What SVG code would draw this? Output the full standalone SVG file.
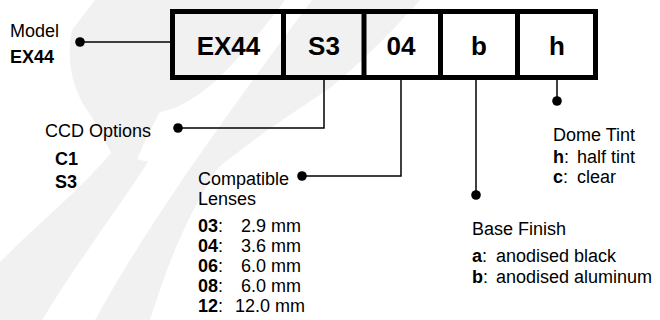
<svg xmlns="http://www.w3.org/2000/svg" width="660" height="320" viewBox="0 0 660 320">
<style>
text{font-family:"Liberation Sans",Arial,Helvetica,sans-serif;fill:#000;}
.lbl{font-size:18px;}
.b{font-weight:bold;}
.cell{font-size:26px;font-weight:bold;text-anchor:middle;}
.wm{fill:#f1f1f1;stroke:none;}
.ln{fill:none;stroke:#000;stroke-width:1.5;}
.dot{fill:#000;}
.box{fill:none;stroke:#000;stroke-width:5;}
</style>
<rect width="660" height="320" fill="#fff"/>
<g id="watermark">
<path class="wm" d="M 95 0 L 285 0 C 240 60 200 105 160 112 C 142 145 133 168 127 188 C 115 160 100 128 87 110 C 72 88 66 60 72 30 Z"/>
<path class="wm" d="M 312 0 L 420 0 C 385 40 350 72 330 88 C 285 118 245 145 218 168 C 192 208 172 250 150 320 L 95 320 C 150 220 230 110 312 0 Z"/>
<path class="wm" d="M 0 262 C 40 222 80 190 112 152 L 148 162 C 110 220 72 270 42 320 L 0 320 Z"/>
</g>
<g id="code-box">
<rect class="box" x="172.5" y="11.5" width="423" height="66"/>
<line x1="283.5" y1="11.5" x2="283.5" y2="77.5" stroke="#000" stroke-width="5"/>
<line x1="364" y1="11.5" x2="364" y2="77.5" stroke="#000" stroke-width="5"/>
<line x1="440.5" y1="11.5" x2="440.5" y2="77.5" stroke="#000" stroke-width="5"/>
<line x1="517.5" y1="11.5" x2="517.5" y2="77.5" stroke="#000" stroke-width="5"/>
<text class="cell" x="228.5" y="55">EX44</text>
<text class="cell" x="324" y="55">S3</text>
<text class="cell" x="401" y="55">04</text>
<text class="cell" x="479" y="55">b</text>
<text class="cell" x="557" y="55">h</text>
</g>
<g id="connectors">
<path class="ln" d="M 80 42 H 170"/>
<path class="ln" d="M 178 128 H 324 V 80"/>
<path class="ln" d="M 302 176 H 401 V 80"/>
<path class="ln" d="M 476 195 V 80"/>
<path class="ln" d="M 557 101 V 80"/>
<circle class="dot" cx="80" cy="42" r="4.8"/>
<circle class="dot" cx="178" cy="128" r="4.8"/>
<circle class="dot" cx="302" cy="176" r="4.8"/>
<circle class="dot" cx="476" cy="195" r="4.8"/>
<circle class="dot" cx="557" cy="101" r="4.8"/>
</g>
<g id="model">
<text class="lbl" x="10" y="37">Model</text>
<text class="lbl b" x="10" y="63">EX44</text>
</g>
<g id="ccd-options">
<text class="lbl" x="45" y="137">CCD Options</text>
<text class="lbl b" x="55" y="165">C1</text>
<text class="lbl b" x="55" y="188">S3</text>
</g>
<g id="compatible-lenses">
<text class="lbl" x="198" y="185">Compatible</text>
<text class="lbl" x="198" y="205">Lenses</text>
<text class="lbl" x="198" y="232"><tspan class="b">03</tspan>:</text>
<text class="lbl" x="241" y="232">2.9 mm</text>
<text class="lbl" x="198" y="252"><tspan class="b">04</tspan>:</text>
<text class="lbl" x="241" y="252">3.6 mm</text>
<text class="lbl" x="198" y="272"><tspan class="b">06</tspan>:</text>
<text class="lbl" x="241" y="272">6.0 mm</text>
<text class="lbl" x="198" y="292"><tspan class="b">08</tspan>:</text>
<text class="lbl" x="241" y="292">6.0 mm</text>
<text class="lbl" x="198" y="312"><tspan class="b">12</tspan>:</text>
<text class="lbl" x="235" y="312">12.0 mm</text>
</g>
<g id="base-finish">
<text class="lbl" x="472" y="235">Base Finish</text>
<text class="lbl" x="472" y="262"><tspan class="b">a</tspan>:</text>
<text class="lbl" x="496" y="262">anodised black</text>
<text class="lbl" x="472" y="283"><tspan class="b">b</tspan>:</text>
<text class="lbl" x="496" y="283">anodised aluminum</text>
</g>
<g id="dome-tint">
<text class="lbl" x="553" y="141">Dome Tint</text>
<text class="lbl" x="553" y="163"><tspan class="b">h</tspan>:</text>
<text class="lbl" x="577" y="163">half tint</text>
<text class="lbl" x="553" y="183"><tspan class="b">c</tspan>:</text>
<text class="lbl" x="577" y="183">clear</text>
</g>
</svg>
